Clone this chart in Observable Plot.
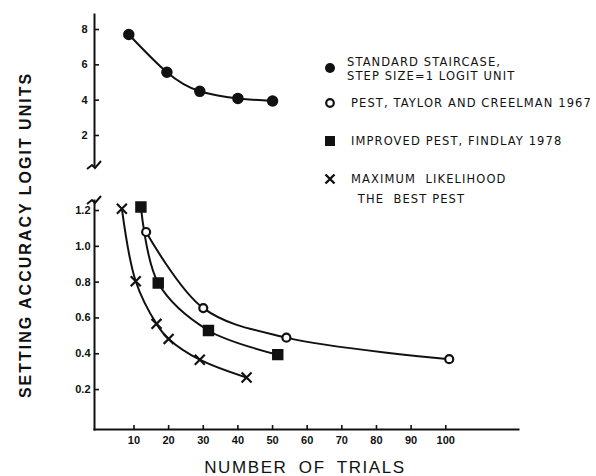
<!DOCTYPE html>
<html><head><meta charset="utf-8">
<script src="https://cdn.jsdelivr.net/npm/d3@7"></script>
<script src="https://cdn.jsdelivr.net/npm/@observablehq/plot@0.6"></script>
<style>
html,body{margin:0;padding:0;background:#fff;}
#wrap{position:relative;width:596px;height:476px;overflow:hidden;font-family:"Liberation Sans",Arial,sans-serif;color:#111;}
#wrap > *{position:absolute;}
.ytitle{left:26px;top:235px;transform:translate(-50%,-50%) rotate(-90deg);white-space:nowrap;font-weight:bold;font-size:16px;letter-spacing:2px;}
.xtitle{left:305px;top:468px;transform:translate(-50%,-50%);white-space:nowrap;font-size:17px;letter-spacing:1.6px;word-spacing:5px;}
</style>
</head><body>
<div id="wrap"></div>
<script>
// ---- data ----
const stdTrials = [8.5, 19.5, 29, 40, 50];
const stdAcc = [7.72, 5.58, 4.5, 4.1, 3.95];
const pestTrials = [13.5, 30, 54, 101];
const pestAcc = [1.08, 0.655, 0.49, 0.37];
const impTrials = [12, 17, 31.5, 51.5];
const impAcc = [1.22, 0.795, 0.53, 0.395];
const mlTrials = [6.5, 10.5, 16.5, 20, 29, 42.5];
const mlAcc = [1.21, 0.805, 0.567, 0.483, 0.367, 0.267];
const xTicks = [10, 20, 30, 40, 50, 60, 70, 80, 90, 100];
const upperTicks = [2, 4, 6, 8];
const lowerTicks = [0.2, 0.4, 0.6, 0.8, 1.0, 1.2];
const legendLabels = [
  ["STANDARD STAIRCASE,", "STEP SIZE=1 LOGIT UNIT"],
  ["PEST, TAYLOR AND CREELMAN 1967"],
  ["IMPROVED PEST, FINDLAY 1978"],
  ["MAXIMUM  LIKELIHOOD", " THE  BEST PEST"]
];
const yTitle = "SETTING ACCURACY LOGIT UNITS";
const xTitle = "NUMBER OF TRIALS";

const toRows = (xs, ys) => xs.map((x, i) => ({x, y: ys[i]}));
const INK = "#111";
const FONT = "Liberation Sans, Arial, sans-serif";
const LEGFONT = "DejaVu Sans, Liberation Sans, sans-serif";
const xDomain = [-1.4, 121];

// axis break decoration drawn at the frame's corner
function breakMark(where) {
  return (index, scales, values, dim) => {
    const x0 = dim.marginLeft;
    const y0 = where === "bottom" ? dim.height - dim.marginBottom : dim.marginTop;
    const g = d3.create("svg:path")
      .attr("d", `M${x0-7},${y0+4} L${x0-2},${y0} L${x0+1},${y0+3} L${x0+7},${y0-4}`)
      .attr("fill", "none").attr("stroke", INK).attr("stroke-width", 2);
    return g.node();
  };
}

const wrap = document.getElementById("wrap");

// ---- upper panel ----
const upper = Plot.plot({
  width: 596, height: 180,
  marginLeft: 94, marginRight: 78, marginTop: 14, marginBottom: 15,
  style: {fontFamily: FONT, fontSize: "11px", color: INK, background: "transparent", overflow: "visible"},
  x: {domain: xDomain, axis: null},
  y: {domain: [0.3, 8.85]},
  marks: [
    Plot.axisY({ticks: upperTicks, tickSize: -5, tickPadding: 12, tickFormat: d3.format("d"), strokeWidth: 1.6, fontWeight: "bold", label: null}),
    Plot.frame({anchor: "left", stroke: INK, strokeWidth: 2}),
    breakMark("bottom"),
    Plot.line(toRows(stdTrials, stdAcc), {x: "x", y: "y", curve: "natural", stroke: INK, strokeWidth: 2}),
    Plot.dot(toRows(stdTrials, stdAcc), {x: "x", y: "y", r: 5, fill: INK, stroke: INK})
  ]
});
upper.style.left = "0px"; upper.style.top = "0px";
wrap.appendChild(upper);

// ---- lower panel ----
const lower = Plot.plot({
  width: 596, height: 260,
  marginLeft: 94, marginRight: 78, marginTop: 10, marginBottom: 21,
  style: {fontFamily: FONT, fontSize: "11px", color: INK, background: "transparent", overflow: "visible"},
  x: {domain: xDomain},
  y: {domain: [-0.023, 1.256]},
  marks: [
    Plot.axisY({ticks: lowerTicks, tickSize: -5, tickPadding: 9, tickFormat: d3.format(".1f"), strokeWidth: 1.6, fontWeight: "bold", label: null}),
    Plot.axisX({ticks: xTicks, tickSize: -4, tickPadding: 11, tickFormat: d3.format("d"), strokeWidth: 1.6, fontWeight: "bold", label: null}),
    Plot.frame({anchor: "left", stroke: INK, strokeWidth: 2}),
    Plot.frame({anchor: "bottom", stroke: INK, strokeWidth: 2}),
    breakMark("top"),
    Plot.line(toRows(pestTrials, pestAcc), {x: "x", y: "y", curve: "catmull-rom", stroke: INK, strokeWidth: 2}),
    Plot.line(toRows(impTrials, impAcc), {x: "x", y: "y", curve: "catmull-rom", stroke: INK, strokeWidth: 2}),
    Plot.line(toRows(mlTrials, mlAcc), {x: "x", y: "y", curve: "catmull-rom", stroke: INK, strokeWidth: 2}),
    Plot.dot(toRows(pestTrials, pestAcc), {x: "x", y: "y", r: 4, fill: "white", stroke: INK, strokeWidth: 2.2}),
    Plot.dot(toRows(impTrials, impAcc), {x: "x", y: "y", r: 5.6, symbol: "square", fill: INK, stroke: INK}),
    Plot.dot(toRows(mlTrials, mlAcc), {x: "x", y: "y", r: 4.6, symbol: "times", stroke: INK, strokeWidth: 2.2})
  ]
});
lower.style.left = "0px"; lower.style.top = "190px";
wrap.appendChild(lower);

// ---- legend ----
const leg = d3.create("svg").attr("width", 596).attr("height", 476)
  .style("left", "0px").style("top", "0px")
  .attr("font-family", LEGFONT).attr("font-size", 11.5).attr("fill", INK);
const legendY = [68, 103, 141, 179];
const textX = [347, 351, 351, 351];
const sym = [
  g => g.append("circle").attr("r", 5).attr("fill", INK),
  g => g.append("circle").attr("r", 3.8).attr("fill", "white").attr("stroke", INK).attr("stroke-width", 2.2),
  g => g.append("rect").attr("x", -5).attr("y", -5).attr("width", 10).attr("height", 10).attr("fill", INK),
  g => g.append("path").attr("d", "M-4.5,-4.5L4.5,4.5M-4.5,4.5L4.5,-4.5").attr("stroke", INK).attr("stroke-width", 2.4)
];
legendLabels.forEach((lines, i) => {
  const g = leg.append("g").attr("transform", `translate(330,${legendY[i]})`);
  sym[i](g);
  const t = leg.append("text").attr("x", textX[i]).attr("y", legendY[i] + (i === 0 ? -6.5 : 0))
    .attr("dominant-baseline", "central").attr("letter-spacing", 1.1).style("white-space", "pre");
  lines.forEach((ln, j) => {
    t.append("tspan").attr("x", textX[i] + (j > 0 && i === 3 ? 2 : 0)).attr("dy", j === 0 ? 0 : (i === 0 ? 14 : 20)).text(ln);
  });
});
wrap.appendChild(leg.node());

// ---- titles ----
const yt = document.createElement("div"); yt.className = "ytitle"; yt.textContent = yTitle; wrap.appendChild(yt);
const xt = document.createElement("div"); xt.className = "xtitle"; xt.textContent = xTitle; wrap.appendChild(xt);
</script>
</body></html>
